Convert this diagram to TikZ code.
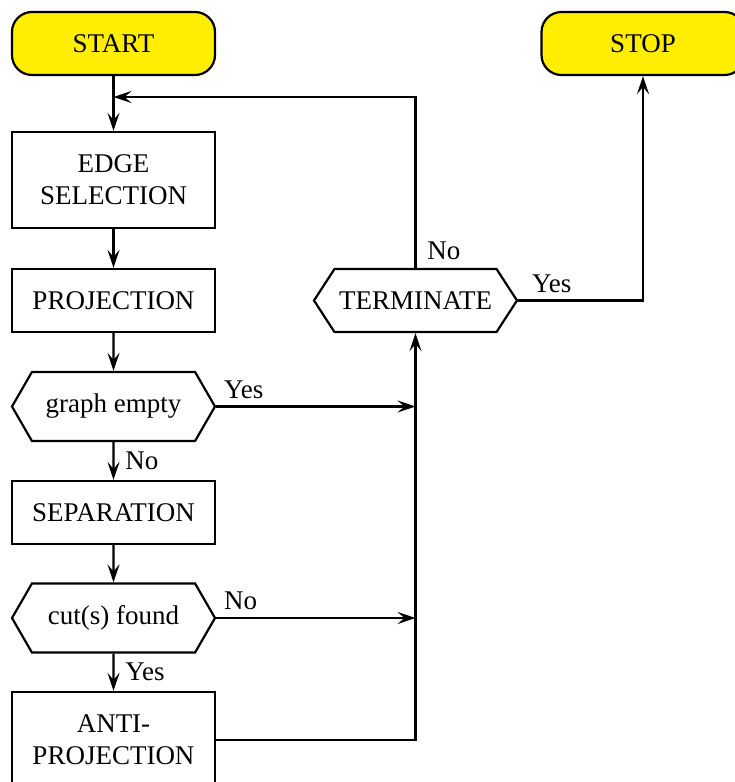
\documentclass[tikz,border=0pt]{standalone}
\usepackage{fontspec}
\setmainfont{Liberation Serif}
\usetikzlibrary{shapes.symbols,arrows.meta}
\definecolor{termyellow}{RGB}{255,238,0}

\begin{document}
\begin{tikzpicture} [x=0.5pt,y=-0.5pt,line width=1.1pt,
			>={Stealth[length=9pt,width=6pt,inset=3.5pt]},
			font=\fontsize{13.5}{16}\selectfont,
			terminal/.style={draw,fill=termyellow,rounded corners=10pt,minimum width=101.5pt,minimum height=31.5pt,inner sep=0pt},
			process/.style={draw,align=center,minimum width=101.5pt,minimum height=31.5pt,inner sep=0pt},
		decision/.style={draw,signal,signal to=west and east,signal pointer angle=120,minimum width=101.5pt,minimum height=34.5pt,inner sep=0pt}]

			\useasboundingbox (0,0) rectangle (734,782);

			\node [terminal] (term-start) at (113.5,43.5) {START};
			\node [terminal] (term-stop) at (643,43.5) {STOP};
			\node [process, minimum height=48pt] (proc-edge) at (113.5,180) {EDGE\\SELECTION};
			\node [process] (proc-proj) at (113.5,300.5) {PROJECTION};
			\node [decision] (dec-empty) at (113.5,406.5) {graph empty};
			\node [process] (proc-sep) at (113.5,512.5) {SEPARATION};
			\node [decision] (dec-cuts) at (113.5,618) {cut(s) found};
			\node [process, minimum height=48pt] (proc-anti) at (113.5,740) {ANTI-\\PROJECTION};
			\node [decision, minimum height=31.5pt, signal pointer angle=114] (dec-term) at (415.5,300.5) {TERMINATE};

			\coordinate (merge) at (113.5,97);
			\coordinate (join-empty) at (415.5,406.5);
			\coordinate (join-cuts) at (415.5,618);

			\draw [->] (term-start) -- (proc-edge);
			\draw [->] (proc-edge) -- (proc-proj);
			\draw [->] (proc-proj) -- (dec-empty);
			\draw [->] (dec-empty) -- node [right, xshift=2pt] {No} (proc-sep);
			\draw [->] (proc-sep) -- (dec-cuts);
			\draw [->] (dec-cuts) -- node [right, xshift=2pt] {Yes} (proc-anti);
			\draw [->] (dec-empty.east) -- node [above right, pos=0] {Yes} (join-empty);
			\draw [->] (dec-cuts.east) -- node [above right, pos=0] {No} (join-cuts);
			\draw [->] (proc-anti.east) -| (dec-term.south);
			\draw [->] (dec-term.north) |- node [above right, pos=0, xshift=2pt] {No} (merge);
			\draw [->] (dec-term.east) -| node [above right, pos=0, xshift=3pt] {Yes} (term-stop.south);
		\end{tikzpicture}
\end{document}
